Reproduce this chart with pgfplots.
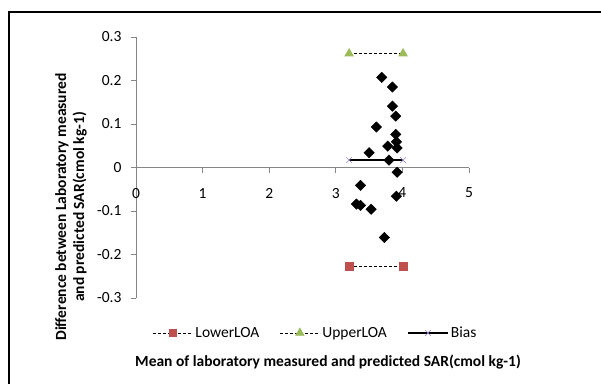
\documentclass[border=0pt]{standalone}
\usepackage{pgfplots}
\pgfplotsset{compat=1.18}
\usepackage{fontspec}
\setmainfont{Carlito}
\definecolor{axgray}{HTML}{868686}
\definecolor{loared}{HTML}{C0504D}
\definecolor{loagreen}{HTML}{9BBB59}
\definecolor{biaspurple}{HTML}{9A88C8}
\begin{document}
\begin{tikzpicture}[x=1pt,y=1pt]
\useasboundingbox (0,0) rectangle (601,383);
\draw[line width=2pt] (9.3,-5) -- (9.3,371) -- (610,371);
\begin{axis}[
  at={(136pt,85pt)}, anchor=south west,
  scale only axis, width=333pt, height=261pt,
  xmin=0, xmax=5, ymin=-0.3, ymax=0.3,
  axis lines=middle,
  axis line style={-, axgray, line width=0.8pt},
  hide obscured x ticks=false, hide obscured y ticks=false,
  xtick={0,1,2,3,4,5},
  ytick={-0.3,-0.2,-0.1,0,0.1,0.2,0.3},
  yticklabels={-0.3,-0.2,-0.1,0,0.1,0.2,0.3},
  tick align=outside,
  major tick length=5pt,
  tick style={axgray, line width=0.8pt},
  /pgf/number format/assume math mode=true,
  ticklabel style={font=\fontsize{15.5}{17}\selectfont, black},
  xticklabel style={yshift=-12pt},
  yticklabel style={xshift=-6pt},
  legend style={draw=none, fill=none, at={(0.539,-0.134)}, anchor=center,
    legend columns=3, font=\fontsize{15.5}{17}\selectfont,
    /tikz/every even column/.append style={column sep=18pt}},
  legend cell align=left,
  legend image code/.code={\draw[#1,mark repeat=2,mark phase=2] plot coordinates {(0pt,0pt) (20pt,0pt) (40pt,0pt)};},
  clip=false,
]
\addplot[only marks, mark=square*, mark size=3.7pt, mark options={rotate=45, fill=black, draw=black}, forget plot] coordinates {
(3.69,0.207) (3.85,0.185) (3.85,0.141) (3.90,0.118) (3.61,0.093)
(3.90,0.076) (3.91,0.059) (3.78,0.049) (3.92,0.045) (3.50,0.034)
(3.80,0.017) (3.92,-0.011) (3.37,-0.041) (3.91,-0.066) (3.31,-0.084)
(3.37,-0.087) (3.53,-0.096) (3.73,-0.161)
};
\addplot[black, line width=0.9pt, dash pattern=on 3pt off 2pt, mark=square*, mark size=3.9pt, mark options={solid, fill=loared, draw=loared}] coordinates {(3.2,-0.227) (4.01,-0.227)};
\addlegendentry{LowerLOA}
\addplot[black, line width=0.9pt, dash pattern=on 3pt off 2pt, mark=triangle*, mark size=4.6pt, mark options={solid, fill=loagreen, draw=loagreen}] coordinates {(3.2,0.262) (4.01,0.262)};
\addlegendentry{UpperLOA}
\addplot[black, line width=2pt, mark=x, mark size=4pt, mark options={solid, draw=biaspurple, line width=0.6pt}] coordinates {(3.2,0.0168) (4.01,0.0168)};
\addlegendentry{Bias}
\end{axis}
\node[rotate=90, align=center, font=\fontsize{15.5}{18}\selectfont\bfseries] at (71,176) {Difference between Laboratory measured\\and predicted SAR(cmol kg-1)};
\node[font=\fontsize{15.5}{17}\selectfont\bfseries] at (328,21) {Mean of laboratory measured and predicted SAR(cmol kg-1)};
\end{tikzpicture}
\end{document}
